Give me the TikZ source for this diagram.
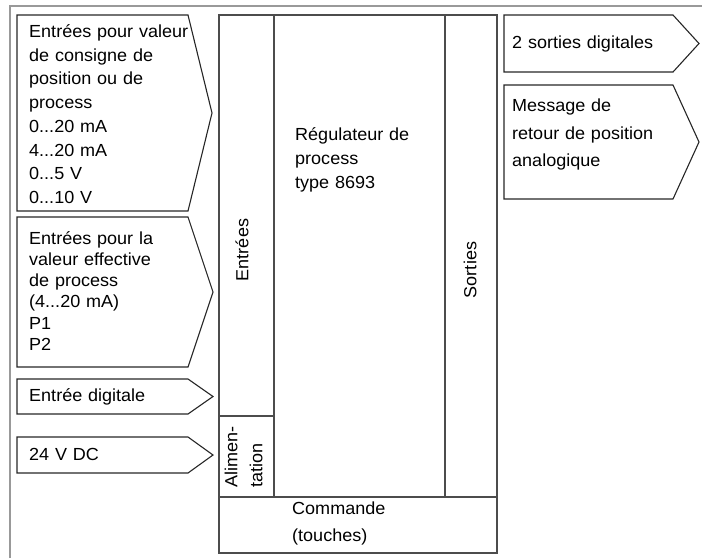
\documentclass[tikz,border=0pt]{standalone}
\usepackage{fontspec}
\setmainfont[FakeStretch=1.03]{Liberation Sans}
\begin{document}
\begin{tikzpicture}[x=1pt,y=-1pt,
  frame/.style={draw=black!40, line width=2pt},
  box/.style={draw=black!85, line width=1.1pt, line join=miter},
  mainbox/.style={draw=black!70, line width=1.5pt},
  txt/.style 2 args={anchor=base west, inner sep=0pt, text width=#1, align=left, font=\fontsize{17.5}{#2}\selectfont},
  rot/.style={rotate=90, inner sep=0pt, font=\fontsize{17.5}{25}\selectfont},
]
\useasboundingbox (0,0) rectangle (702,558);
\draw[frame] (10,558) -- (10,6) -- (702,6);

% left input arrows
\draw[box] (17,15) -- (188,15) -- (212,113) -- (188,211) -- (17,211) -- cycle;
\node[txt={170pt}{23.7}] (in1) at (29,37.5) {Entrées pour valeur\\de consigne de\\position ou de\\process\\0...20 mA\\4...20 mA\\0...5 V\\0...10 V};

\draw[box] (17,217) -- (188,217) -- (213,292) -- (188,367) -- (17,367) -- cycle;
\node[txt={170pt}{21.3}] (in2) at (29,244) {Entrées pour la\\valeur effective\\de process\\(4...20 mA)\\P1\\P2};

\draw[box] (17,379) -- (188,379) -- (213,396.5) -- (188,414) -- (17,414) -- cycle;
\node[txt={170pt}{21.3}] (in3) at (29,401.5) {Entrée digitale};

\draw[box] (17,437) -- (188,437) -- (213,455) -- (188,473) -- (17,473) -- cycle;
\node[txt={170pt}{21.3}] (in4) at (29,460) {24 V DC};

% right output arrows
\draw[box] (504,15) -- (673,15) -- (699,43.5) -- (673,72) -- (504,72) -- cycle;
\node[txt={170pt}{27.5}] (out1) at (512,48.3) {2 sorties digitales};

\draw[box] (504,85) -- (673,85) -- (699,142) -- (673,199) -- (504,199) -- cycle;
\node[txt={170pt}{27.5}] (out2) at (512,111.7) {Message de\\retour de position\\analogique};

% main device
\draw[mainbox] (219,15) rectangle (497,553);
\draw[mainbox] (274,15) -- (274,497);
\draw[mainbox] (445,15) -- (445,497);
\draw[mainbox] (219,497) -- (497,497);
\draw[mainbox] (219,416) -- (274,416);

\node[txt={150pt}{24.2}] (reg) at (295,140) {Régulateur de\\process\\type 8693};
\node[txt={150pt}{27}] (cmd) at (292,514) {Commande\\(touches)};

\node[rot] (ent) at (242,250) {Entrées};
\node[rot] (sor) at (470,270) {Sorties};
\node[rot, anchor=west, align=left] (alim) at (243.5,488) {Alimen-\\tation};
\end{tikzpicture}
\end{document}
